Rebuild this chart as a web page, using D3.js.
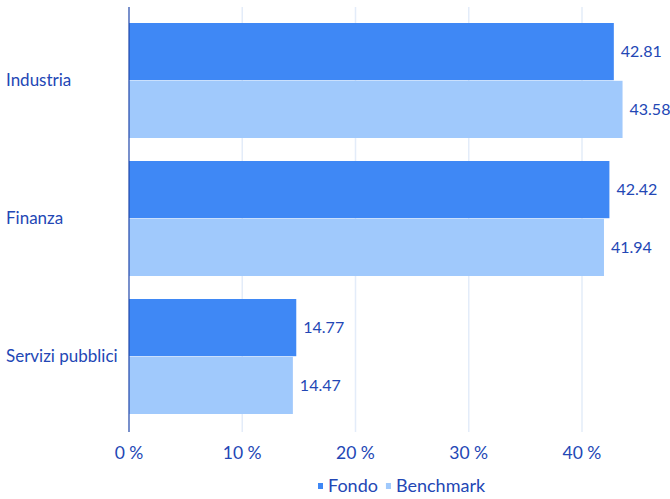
<!DOCTYPE html>
<html>
<head>
<meta charset="utf-8">
<script src="https://cdn.jsdelivr.net/npm/d3@7"></script>
<style>
  body { margin: 0; background: #fff; }
  text { font-family: Lato, "Noto Sans", sans-serif; fill: #2347b5; }
</style>
</head>
<body>
<div id="chart"></div>
<script>
var categories = ['Industria', 'Finanza', 'Servizi pubblici'];
var series = ['Fondo', 'Benchmark'];
var fondo = [42.81, 42.42, 14.77];
var benchmark = [43.58, 41.94, 14.47];
var ticks = [0, 10, 20, 30, 40];
var colors = ['#3f88f5', '#a0c9fc'];

var width = 670, height = 499;
var x = d3.scaleLinear().domain([0, 40]).range([129, 582]);
var y = d3.scaleBand().domain(categories).range([11.5, 425.5]).paddingInner(23 / 138).paddingOuter(11.5 / 138);
var ySub = d3.scaleBand().domain(series).range([0, y.bandwidth()]).paddingInner(0.01);

var svg = d3.select('#chart').append('svg')
    .attr('width', width)
    .attr('height', height);

// grid
svg.append('g').selectAll('line')
    .data(ticks.slice(1))
    .enter().append('line')
    .attr('x1', function (d) { return x(d); })
    .attr('x2', function (d) { return x(d); })
    .attr('y1', 7)
    .attr('y2', 432)
    .attr('stroke', '#e3ecf9')
    .attr('stroke-width', 1.5);

var rows = categories.map(function (c, i) {
    return { cat: c, values: [fondo[i], benchmark[i]] };
});

var groups = svg.selectAll('.grp')
    .data(rows)
    .enter().append('g')
    .attr('class', 'grp')
    .attr('transform', function (d) { return 'translate(0,' + y(d.cat) + ')'; });

groups.selectAll('rect')
    .data(function (d) { return d.values.map(function (v, j) { return { s: series[j], v: v, j: j }; }); })
    .enter().append('rect')
    .attr('x', x(0))
    .attr('y', function (d) { return ySub(d.s); })
    .attr('width', function (d) { return x(d.v) - x(0); })
    .attr('height', ySub.bandwidth())
    .attr('fill', function (d) { return colors[d.j]; });

groups.selectAll('.val')
    .data(function (d) { return d.values.map(function (v, j) { return { s: series[j], v: v }; }); })
    .enter().append('text')
    .attr('class', 'val')
    .attr('x', function (d) { return x(d.v) + 7; })
    .attr('y', function (d) { return ySub(d.s) + ySub.bandwidth() / 2; })
    .attr('dy', '0.35em')
    .style('font-size', '16px')
    .text(function (d) { return d.v.toFixed(2); });

// category labels
svg.append('g').selectAll('text')
    .data(categories)
    .enter().append('text')
    .attr('x', 6)
    .attr('y', function (d) { return y(d) + y.bandwidth() / 2; })
    .attr('dy', '0.35em')
    .style('font-size', '17px')
    .text(function (d) { return d; });

// y axis line
svg.append('line')
    .attr('x1', x(0)).attr('x2', x(0))
    .attr('y1', 7).attr('y2', 432)
    .attr('stroke', '#1f45a8')
    .attr('stroke-width', 1.2);

// x tick labels
svg.append('g').selectAll('text')
    .data(ticks)
    .enter().append('text')
    .attr('x', function (d) { return x(d); })
    .attr('y', 453)
    .attr('dy', '0.35em')
    .attr('text-anchor', 'middle')
    .style('font-size', '17.5px')
    .text(function (d) { return d + ' %'; });

// legend
var legend = svg.append('g').attr('transform', 'translate(318,486)');
var lx = 0;
series.forEach(function (s, i) {
    var g = legend.append('g').attr('transform', 'translate(' + lx + ',0)');
    g.append('rect').attr('x', 0).attr('y', -3).attr('width', 5).attr('height', 6).attr('fill', colors[i]);
    var t = g.append('text').attr('x', 10).attr('dy', '0.35em').style('font-size', '18px').text(s);
    lx += 10 + t.node().getComputedTextLength() + 8;
});
</script>
</body>
</html>
